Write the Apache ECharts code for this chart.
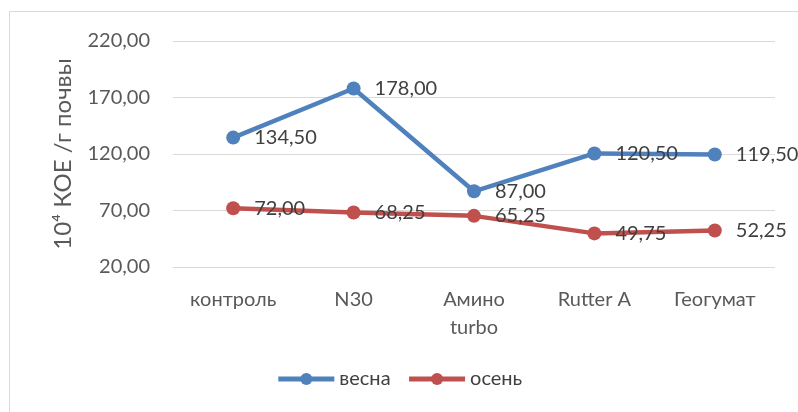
<!DOCTYPE html>
<html>
<head>
<meta charset="utf-8">
<script src="https://cdn.jsdelivr.net/npm/echarts@6/dist/echarts.min.js"></script>
<style>
  html, body { margin: 0; padding: 0; background: #fff; }
  #chart { width: 798px; height: 412px; }
</style>
</head>
<body>
<div id="chart"></div>
<script>
const categories = ['контроль', 'N30', 'Амино\nturbo', 'Rutter A', 'Геогумат']
const spring = [134.5, 178, 87, 120.5, 119.5]
const autumn = [72, 68.25, 65.25, 49.75, 52.25]
const seriesNames = ['весна', 'осень']

const fmt = v => v.toFixed(2).replace('.', ',')
const font = 'Lato, "Open Sans", sans-serif'

const chart = echarts.init(document.getElementById('chart'))

function lineSeries(name, data, color) {
    return {
        name: name,
        type: 'line',
        data: data,
        symbol: 'circle',
        symbolSize: 14,
        lineStyle: { width: 4.5, color: color },
        itemStyle: { color: color },
        label: {
            show: true,
            position: 'right',
            distance: 14,
            fontSize: 20,
            fontFamily: font,
            color: '#404040',
            formatter: p => fmt(p.value)
        }
    }
}

chart.setOption({
    animation: false,
    graphic: [{
        type: 'rect',
        shape: { x: 9.5, y: 11.5, width: 800, height: 420 },
        style: { fill: 'none', stroke: '#d9d9d9', lineWidth: 1 }
    }],
    grid: { left: 173, right: 23, top: 41, bottom: 145 },
    legend: {
        bottom: 18,
        left: 'center',
        itemWidth: 56,
        itemHeight: 15,
        itemGap: 16,
        lineStyle: { width: 5 },
        textStyle: { fontSize: 20, fontFamily: font, color: '#404040' },
        data: seriesNames
    },
    xAxis: {
        type: 'category',
        data: categories,
        boundaryGap: true,
        axisLine: { show: false },
        axisTick: { show: false },
        axisLabel: {
            fontSize: 20,
            fontFamily: font,
            color: '#595959',
            margin: 19,
            lineHeight: 28
        }
    },
    yAxis: {
        type: 'value',
        min: 20,
        max: 220,
        interval: 50,
        name: '10⁴ КОЕ /г почвы',
        nameLocation: 'middle',
        nameGap: 98,
        nameTextStyle: { fontSize: 24, fontFamily: font, color: '#595959' },
        axisLine: { show: false },
        axisTick: { show: false },
        axisLabel: {
            fontSize: 20,
            fontFamily: font,
            color: '#595959',
            margin: 23,
            formatter: v => fmt(v)
        },
        splitLine: { lineStyle: { color: '#d9d9d9', width: 1 } }
    },
    series: [
        lineSeries(seriesNames[0], spring, '#4f81bd'),
        lineSeries(seriesNames[1], autumn, '#c0504d')
    ]
})
</script>
</body>
</html>
